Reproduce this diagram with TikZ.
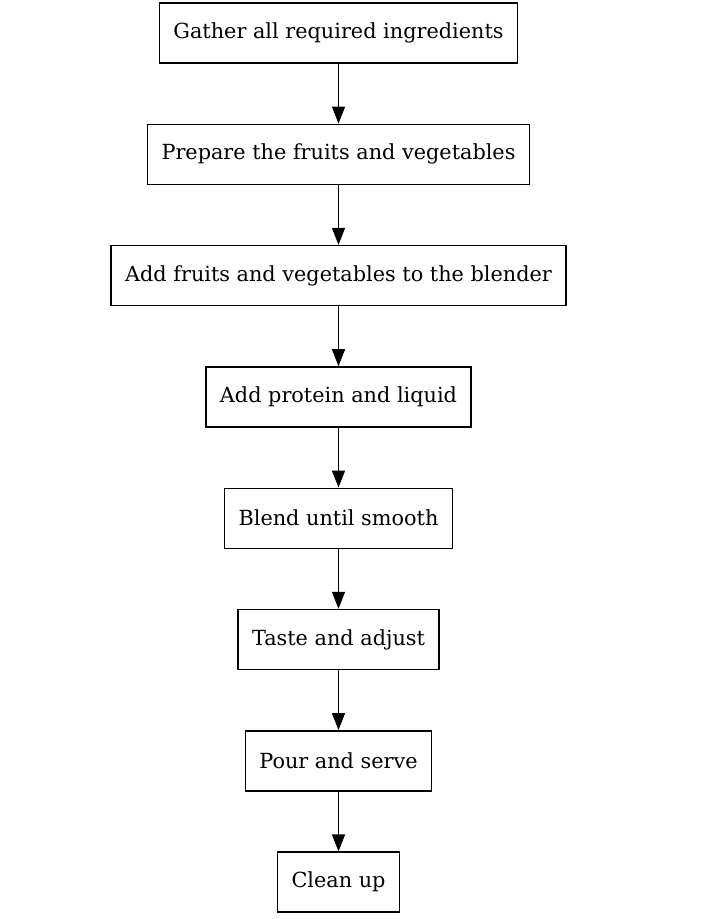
\documentclass[tikz,border=0pt]{standalone}
\usepackage{fontspec}
\setmainfont{DejaVu Serif}
\usepackage{tikz}
\usetikzlibrary{arrows.meta,positioning}

\begin{document}
\begin{tikzpicture}[auto, node distance=121.3pt, >={Triangle[length=17pt,width=13pt]},
  font=\fontsize{20.8pt}{24pt}\selectfont]
\tikzset{stepbox/.style = {draw, rectangle, line width=1.4pt, minimum height=60pt,
  inner xsep=14pt}}
\tikzset{flow/.style = {->, line width=1.4pt}}

  \useasboundingbox (0,0) rectangle (702pt,-919pt);

  \node[stepbox] at (338.5pt,-33pt) (gather){Gather all required ingredients};
  \node[stepbox, below of=gather] (prepare){Prepare the fruits and vegetables};
  \node[stepbox, below of=prepare] (blender){Add fruits and vegetables to the blender};
  \node[stepbox, below of=blender] (protein){Add protein and liquid};
  \node[stepbox, below of=protein] (blend){Blend until smooth};
  \node[stepbox, below of=blend] (taste){Taste and adjust};
  \node[stepbox, below of=taste] (pour){Pour and serve};
  \node[stepbox, below of=pour] (cleanup){Clean up};

  \draw[flow] (gather) -- (prepare);
  \draw[flow] (prepare) -- (blender);
  \draw[flow] (blender) -- (protein);
  \draw[flow] (protein) -- (blend);
  \draw[flow] (blend) -- (taste);
  \draw[flow] (taste) -- (pour);
  \draw[flow] (pour) -- (cleanup);

\end{tikzpicture}
\end{document}
